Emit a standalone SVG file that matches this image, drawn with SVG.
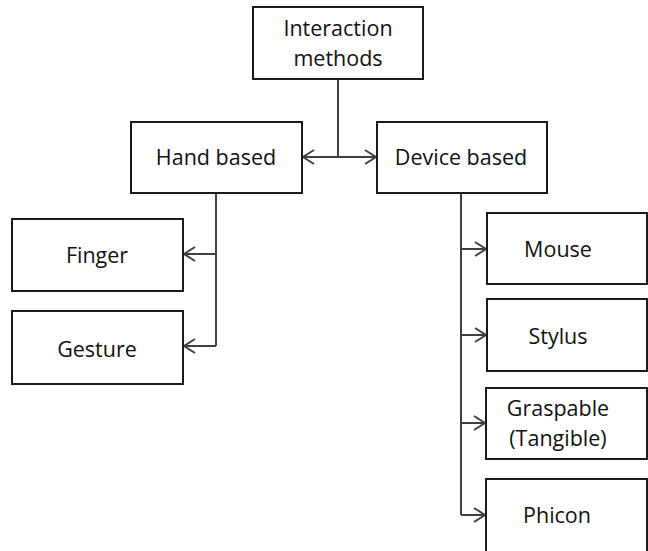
<svg xmlns="http://www.w3.org/2000/svg" width="648" height="551" viewBox="0 0 648 551">
  <style>
    .box { fill: #ffffff; stroke: #1a1a1a; stroke-width: 2; }
    .lbl { font-family: "Open Sans", "Noto Sans", sans-serif; font-size: 21.5px; fill: #111111; text-anchor: middle; }
    .wire { fill: none; stroke: #404040; stroke-width: 2; }
  </style>
  <defs>
    <marker id="chev" markerUnits="userSpaceOnUse" markerWidth="14" markerHeight="18" refX="12" refY="8" orient="auto">
      <path d="M1,1 L12,8 L1,15" fill="none" stroke="#404040" stroke-width="2"/>
    </marker>
  </defs>
  <rect width="648" height="551" fill="#ffffff"/>

  <g id="connectors">
    <!-- root to the two branches -->
    <path class="wire" d="M338,79 V157"/>
    <path class="wire" d="M338,157 H303" marker-end="url(#chev)"/>
    <path class="wire" d="M338,157 H376" marker-end="url(#chev)"/>
    <!-- hand based children -->
    <path class="wire" d="M216,193 V346"/>
    <path class="wire" d="M216,254 H184" marker-end="url(#chev)"/>
    <path class="wire" d="M216,346 H184" marker-end="url(#chev)"/>
    <!-- device based children -->
    <path class="wire" d="M461,193 V515"/>
    <path class="wire" d="M461,249 H486" marker-end="url(#chev)"/>
    <path class="wire" d="M461,335 H486" marker-end="url(#chev)"/>
    <path class="wire" d="M461,423 H485" marker-end="url(#chev)"/>
    <path class="wire" d="M461,515 H485" marker-end="url(#chev)"/>
  </g>

  <g id="interaction-methods">
    <rect class="box" x="253" y="7" width="170" height="72"/>
    <text class="lbl" x="338" y="36">Interaction</text>
    <text class="lbl" x="338" y="66">methods</text>
  </g>
  <g id="hand-based">
    <rect class="box" x="131" y="122" width="171" height="71"/>
    <text class="lbl" x="216" y="165">Hand based</text>
  </g>
  <g id="device-based">
    <rect class="box" x="377" y="122" width="170" height="71"/>
    <text class="lbl" x="461" y="165">Device based</text>
  </g>
  <g id="finger">
    <rect class="box" x="12" y="219" width="171" height="72"/>
    <text class="lbl" x="97" y="263">Finger</text>
  </g>
  <g id="gesture">
    <rect class="box" x="12" y="311" width="171" height="73"/>
    <text class="lbl" x="97" y="357">Gesture</text>
  </g>
  <g id="mouse">
    <rect class="box" x="487" y="213" width="160" height="71"/>
    <text class="lbl" x="558" y="257">Mouse</text>
  </g>
  <g id="stylus">
    <rect class="box" x="487" y="299" width="160" height="72"/>
    <text class="lbl" x="558" y="344">Stylus</text>
  </g>
  <g id="graspable">
    <rect class="box" x="486" y="388" width="161" height="71"/>
    <text class="lbl" x="558" y="416">Graspable</text>
    <text class="lbl" x="558" y="446">(Tangible)</text>
  </g>
  <g id="phicon">
    <rect class="box" x="486" y="479" width="161" height="80"/>
    <text class="lbl" x="557" y="523">Phicon</text>
  </g>
</svg>
